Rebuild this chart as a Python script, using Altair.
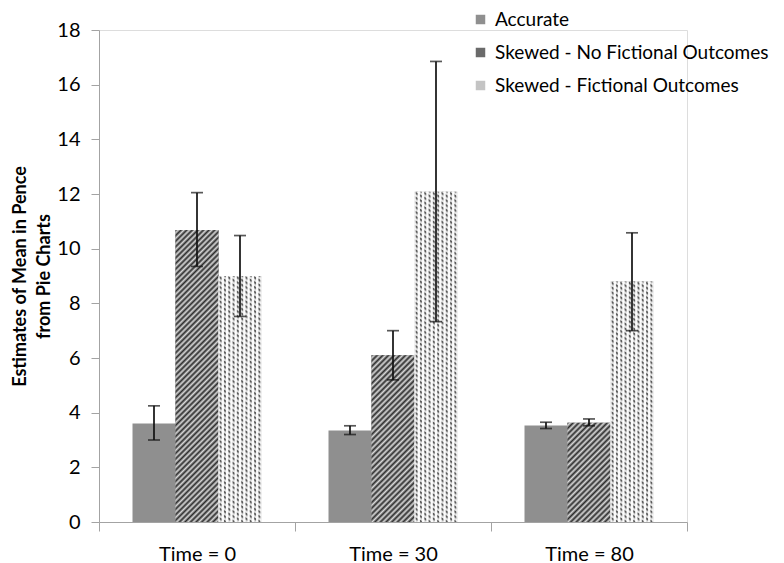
import altair as alt
import pandas as pd

# ---------------- data ----------------
times = ["Time = 0", "Time = 30", "Time = 80"]
groups = ["Accurate", "Skewed - No Fictional Outcomes", "Skewed - Fictional Outcomes"]

accurate_mean = [3.6, 3.35, 3.53]
accurate_low = [3.0, 3.2, 3.42]
accurate_high = [4.25, 3.52, 3.65]

nofict_mean = [10.68, 6.1, 3.63]
nofict_low = [9.35, 5.2, 3.52]
nofict_high = [12.05, 7.0, 3.77]

fict_mean = [9.0, 12.08, 8.8]
fict_low = [7.52, 7.33, 7.0]
fict_high = [10.48, 16.85, 10.58]

y_ticks = [0, 2, 4, 6, 8, 10, 12, 14, 16, 18]

rows = []
for g, m, lo, hi in [
    (groups[0], accurate_mean, accurate_low, accurate_high),
    (groups[1], nofict_mean, nofict_low, nofict_high),
    (groups[2], fict_mean, fict_low, fict_high),
]:
    for t, mv, lv, hv in zip(times, m, lo, hi):
        rows.append({"time": t, "group": g, "mean": mv, "low": lv, "high": hv})
df = pd.DataFrame(rows)

# ---------------- layout / style ----------------
W, H = 588, 492
YMAX = 18
PX = H / YMAX
PAD_OUTER = 0.779
STEP = W / 3
BAR_W = STEP / (3 + 2 * PAD_OUTER)
FONT = "Lato"
AXIS_GRAY = "#a3a3a3"


def stripe_gradient(value, period=5.6, dark="#2c2c2c", light="#d8d8d8"):
    w = BAR_W
    h = value * PX
    k = (w + h) / (w * w + h * h)
    n = max(1, round((w + h) / period))
    stops = []
    for i in range(n):
        stops.append({"offset": i / n, "color": dark})
        stops.append({"offset": (i + 0.5) / n, "color": light})
    stops.append({"offset": 1.0, "color": dark})
    return {"gradient": "linear", "x1": 0, "y1": 0, "x2": k * w, "y2": k * h, "stops": stops}


def column_gradient(period=4.3, dark="#5a5a5a", light="#f8f8f8"):
    n = max(1, round(BAR_W / period))
    stops = []
    for i in range(n):
        stops.append({"offset": i / n, "color": light})
        stops.append({"offset": (i + 0.15) / n, "color": light})
        stops.append({"offset": (i + 0.4) / n, "color": dark})
        stops.append({"offset": (i + 0.6) / n, "color": dark})
        stops.append({"offset": (i + 0.85) / n, "color": light})
    stops.append({"offset": 1.0, "color": light})
    return {"gradient": "linear", "x1": 0, "y1": 0, "x2": 1, "y2": 0, "stops": stops}


def row_overlay_gradient(value, period=4.8, col_period=4.3):
    w = BAR_W
    h = value * PX
    s = (period / 2) / col_period
    c = (h + s * w) / (s * s * w * w + h * h)
    n = max(1, round((h + s * w) / period))
    clear = "rgba(255,255,255,0)"
    white = "rgba(255,255,255,0.78)"
    stops = []
    for i in range(n):
        stops.append({"offset": i / n, "color": clear})
        stops.append({"offset": (i + 0.2) / n, "color": clear})
        stops.append({"offset": (i + 0.55) / n, "color": white})
        stops.append({"offset": (i + 0.8) / n, "color": white})
    stops.append({"offset": 1.0, "color": clear})
    return {"gradient": "linear", "x1": 1, "y1": 0, "x2": 1 - s * w * c, "y2": h * c, "stops": stops}


x_enc = alt.X(
    "time:N",
    sort=times,
    scale=alt.Scale(domain=times, paddingInner=0, paddingOuter=0),
    axis=alt.Axis(
        title=None,
        labelAngle=0,
        tickBand="extent",
        tickSize=9,
        tickColor=AXIS_GRAY,
        domainColor=AXIS_GRAY,
        labelFont=FONT,
        labelFontSize=20,
        labelColor="#000000",
        labelPadding=13,
    ),
)
xo_enc = alt.XOffset(
    "group:N",
    sort=groups,
    scale=alt.Scale(domain=groups, paddingInner=0, paddingOuter=PAD_OUTER),
)
y_enc = alt.Y(
    "mean:Q",
    scale=alt.Scale(domain=[0, YMAX], nice=False, zero=True),
    axis=alt.Axis(
        values=y_ticks,
        grid=False,
        tickSize=8,
        tickColor=AXIS_GRAY,
        domainColor=AXIS_GRAY,
        labelFont=FONT,
        labelFontSize=20,
        labelColor="#000000",
        labelPadding=11,
        title=["Estimates of Mean in Pence", "from Pie Charts"],
        titleFont=FONT,
        titleFontSize=18,
        titleFontWeight="bold",
        titleColor="#000000",
        titleAngle=270,
        titleAlign="center",
        titleBaseline="alphabetic",
        titleLineHeight=24,
        titleX=-74,
        titleY=H / 2,
    ),
)

base = alt.Chart(df)

legend_bars = base.mark_bar().encode(
    x=x_enc,
    xOffset=xo_enc,
    y=y_enc,
    fill=alt.Fill(
        "group:N",
        sort=groups,
        scale=alt.Scale(domain=groups, range=["#8f8f8f", "#6a6a6a", "#c4c4c4"]),
        legend=alt.Legend(
            title=None,
            orient="none",
            legendX=372,
            legendY=-20,
            symbolType="square",
            symbolSize=90,
            symbolStrokeWidth=0,
            labelFont=FONT,
            labelFontSize=19,
            labelColor="#000000",
            labelOffset=5,
            rowPadding=13,
            labelLimit=400,
            padding=0,
        ),
    ),
)

layers = [legend_bars]

for t, v in zip(times, nofict_mean):
    layers.append(
        base.transform_filter(
            (alt.datum.group == groups[1]) & (alt.datum.time == t)
        )
        .mark_bar(fill=stripe_gradient(v))
        .encode(x=x_enc, xOffset=xo_enc, y=y_enc)
    )

layers.append(
    base.transform_filter(alt.datum.group == groups[2])
    .mark_bar(fill=column_gradient())
    .encode(x=x_enc, xOffset=xo_enc, y=y_enc)
)
for t, v in zip(times, fict_mean):
    layers.append(
        base.transform_filter(
            (alt.datum.group == groups[2]) & (alt.datum.time == t)
        )
        .mark_bar(fill=row_overlay_gradient(v))
        .encode(x=x_enc, xOffset=xo_enc, y=y_enc)
    )

err_rule = base.mark_rule(color="#111111", strokeWidth=1.7).encode(
    x=x_enc, xOffset=xo_enc, y=alt.Y("low:Q"), y2="high:Q"
)
cap_low = base.mark_tick(color="#111111", thickness=1.7, size=12).encode(
    x=x_enc, xOffset=xo_enc, y=alt.Y("low:Q")
)
cap_high = base.mark_tick(color="#111111", thickness=1.7, size=12).encode(
    x=x_enc, xOffset=xo_enc, y=alt.Y("high:Q")
)
layers += [err_rule, cap_low, cap_high]

chart = (
    alt.layer(*layers)
    .properties(
        width=W,
        height=H,
        autosize=alt.AutoSizeParams(type="none"),
        padding={"left": 91, "top": 22, "right": 89, "bottom": 41},
    )
    .configure_view(stroke=None)
    .configure(background="white")
)

chart.save("out.html", embed_options={"renderer": "svg", "actions": False})
